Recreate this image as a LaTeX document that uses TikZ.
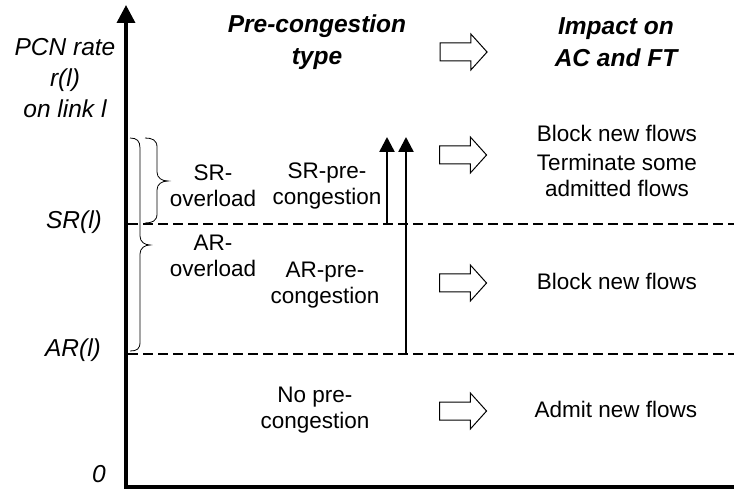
\documentclass[tikz,border=0pt]{standalone}
\usepackage{fontspec}
\setmainfont{Liberation Sans}
\usetikzlibrary{arrows.meta,shapes.arrows}
\begin{document}
\begin{tikzpicture}[x=1pt,y=-1pt,
  txt/.style={font=\fontsize{22.5}{26}\selectfont, align=center, inner sep=0pt},
  lbl/.style={font=\fontsize{24.5}{31}\selectfont\itshape, align=center, inner sep=0pt},
  ttl/.style={font=\fontsize{24.5}{32}\selectfont\bfseries\itshape, align=center, inner sep=0pt},
  axisline/.style={line width=3.5pt},
  level/.style={line width=2.5pt, dash pattern=on 10pt off 5pt},
  uparrow/.style={line width=2.5pt, -{Triangle[width=15pt,length=15pt]}},
  braceline/.style={line width=0.8pt},
  harrow/.style={single arrow, draw, line width=1pt, fill=white, minimum height=47pt,
    inner xsep=0pt, inner ysep=8.5pt, outer sep=0pt, single arrow head extend=9pt,
    single arrow tip angle=96}
]
\useasboundingbox (0,0) rectangle (734,489);

% axes
\coordinate (xend) at (734,487);
\coordinate (origin) at (126,487);
\coordinate (ytop) at (126,5);
\draw[axisline, -{Triangle[width=18pt,length=18pt]}] (xend) -- (origin) -- (ytop);

% levels
\coordinate (srL) at (128,224);
\coordinate (srR) at (734,224);
\coordinate (arL) at (128,354);
\coordinate (arR) at (734,354);
\draw[level] (srL) -- (srR);
\draw[level] (arL) -- (arR);

% vertical arrows
\coordinate (a1s) at (387,224);
\coordinate (a1e) at (387,137);
\coordinate (a2s) at (406,354);
\coordinate (a2e) at (406,137);
\draw[uparrow] (a1s) -- (a1e);
\draw[uparrow] (a2s) -- (a2e);

% braces
\draw[braceline] (145,138) .. controls (152,138) and (157,140) .. (157,147) -- (157,172)
  .. controls (157,178) and (162,181) .. (168,181)
  .. controls (162,181) and (157,184) .. (157,190) -- (157,214)
  .. controls (157,221) and (152,223) .. (145,223);
\draw[braceline] (130,138) .. controls (137,138) and (140,141) .. (140,148) -- (140,236)
  .. controls (140,242) and (145,245) .. (150,245)
  .. controls (145,245) and (140,248) .. (140,254) -- (140,342)
  .. controls (140,349) and (137,351) .. (130,351);

% left labels
\node[lbl] (pcn) at (65,78) {PCN rate\\r(l)\\on link l};
\node[lbl] (srl) at (74,222) {SR(l)};
\node[lbl] (arl) at (73,350) {AR(l)};
\node[lbl] (zero) at (99,474) {0};

% headers
\node[ttl] (h1) at (317,42) {Pre-congestion\\type};
\node[ttl] (h2) at (616,42) {Impact on\\AC and FT};
\node[harrow] (ha0) at (459.5,52) {};

% regions
\node[txt] (sro) at (213,186) {SR-\\overload};
\node[txt] (srp) at (327,186) {SR-pre-\\congestion};
\node[txt] (aro) at (213,256) {AR-\\overload};
\node[txt] (arp) at (325,285) {AR-pre-\\congestion};
\node[txt] (nop) at (315,410) {No pre-\\congestion};

\node[harrow] (ha1) at (459,155) {};
\node[harrow] (ha2) at (459,283) {};
\node[harrow] (ha3) at (459,411) {};

\node[txt] (r1a) at (617,133) {Block new flows};
\node[txt] (r1b) at (617,175) {Terminate some\\admitted flows};
\node[txt] (r2) at (617,281) {Block new flows};
\node[txt] (r3) at (616,409) {Admit new flows};
\end{tikzpicture}
\end{document}
